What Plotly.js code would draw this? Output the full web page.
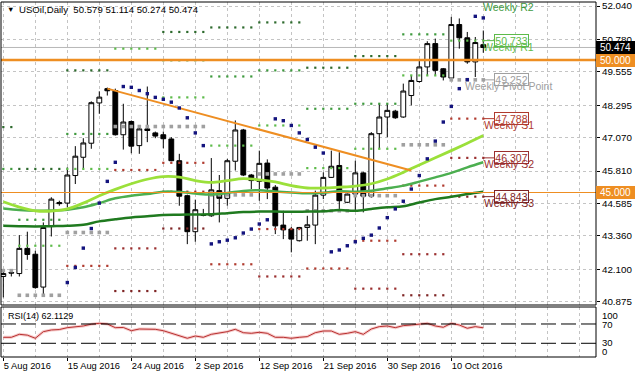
<!DOCTYPE html>
<html><head><meta charset="utf-8">
<script src="https://cdn.plot.ly/plotly-3.0.1.min.js"></script>
<style>html,body{margin:0;padding:0;background:#fff;}#chart{width:636px;height:379px;}</style>
</head><body><div id="chart"></div>
<script>
// ---- Daily candles (bar index 0 = 5 Aug 2016, one bar per 8px, Sunday bars included)
const openP  = [41.83,41.98,41.94,42.89,42.67,41.43,43.74,44.62,44.60,45.64,46.33,46.86,48.38,48.92,48.85,47.18,47.68,46.77,47.40,47.25,47.18,47.02,46.20,44.88,43.52,44.16,44.12,45.07,44.78,46.18,47.36,45.66,45.42,46.11,45.20,43.77,43.62,43.18,43.68,43.77,44.90,45.57,46.02,44.63,44.94,45.74,44.86,47.22,47.85,48.07,47.85,48.66,49.19,49.74,50.62,49.67,49.32,51.34,50.84,49.93,50.579];
const highP  = [42.10,42.05,43.39,43.52,42.80,43.87,44.82,44.69,45.95,46.75,47.05,48.44,48.82,48.96,48.92,48.35,47.72,47.47,49.00,47.30,47.30,47.09,46.46,44.92,44.73,44.38,46.30,45.66,46.27,47.72,47.40,45.70,46.58,46.25,45.28,44.31,43.70,43.70,44.12,45.07,45.76,46.58,46.52,44.96,46.20,45.78,47.28,48.35,48.35,48.12,49.11,49.42,49.99,50.71,50.81,49.70,51.63,51.57,51.06,50.87,51.114];
const lowP   = [41.04,41.83,41.83,42.46,41.37,41.16,43.34,44.50,44.44,45.32,45.92,46.65,47.97,48.66,47.15,46.62,46.48,46.46,46.90,47.05,46.67,46.18,44.50,43.05,43.14,44.10,44.08,43.87,44.50,45.83,45.62,45.13,44.69,44.75,43.43,43.24,42.74,43.15,43.18,43.05,44.75,45.55,44.38,44.60,44.31,44.25,44.80,46.65,47.09,47.78,47.82,48.29,49.15,49.42,49.42,49.23,49.29,50.43,49.86,49.36,50.274];
const closeP = [41.94,41.96,42.89,42.66,41.41,43.68,44.75,44.58,45.66,46.37,46.87,48.39,48.60,48.84,47.18,47.66,46.75,47.40,47.34,47.13,47.03,46.20,44.86,43.52,44.35,44.14,45.10,44.78,46.20,47.36,45.66,45.45,46.10,45.17,43.74,43.59,43.24,43.68,43.78,44.90,45.57,45.99,44.69,44.94,45.74,44.86,47.22,47.85,48.10,47.82,48.83,49.23,49.74,50.62,49.61,49.36,51.34,50.84,49.93,50.66,50.474];

// ---- Date tick labels (bar index -> label)
const dateTickIdx = [0,8,16,24,32,40,48,56];
const dateTickText = ['5 Aug 2016','15 Aug 2016','24 Aug 2016','2 Sep 2016','12 Sep 2016','21 Sep 2016','30 Sep 2016','10 Oct 2016'];

// ---- Price axis labels
const priceTicks = [52.040,50.780,49.555,48.295,47.070,45.810,44.585,43.360,42.100,40.875];
const priceTickText = priceTicks.map(v => v.toFixed(3));

// ---- Moving averages (read every other bar)
const maX    = [0,2,4,6,8,10,12,14,16,18,20,22,24,26,28,30,32,34,36,38,40,42,44,46,48,50,52,54,56,58,60];
const maFast = [44.65,44.45,44.31,44.30,44.38,44.60,44.88,45.12,45.33,45.50,45.60,45.58,45.45,45.38,45.45,45.52,45.48,45.40,45.26,45.17,45.17,45.20,45.24,45.33,45.51,45.76,46.04,46.31,46.58,46.86,47.15];
const maMid  = [44.40,44.34,44.31,44.32,44.35,44.44,44.60,44.78,44.88,44.94,45.03,45.02,44.96,44.92,44.98,45.06,45.08,45.04,45.00,44.97,44.99,45.05,45.03,45.07,45.16,45.26,45.41,45.57,45.74,45.95,46.14];
const maSlow = [43.74,43.73,43.72,43.73,43.74,43.78,43.91,43.99,44.06,44.10,44.15,44.16,44.17,44.18,44.22,44.26,44.28,44.28,44.27,44.28,44.29,44.34,44.31,44.38,44.44,44.48,44.62,44.75,44.84,44.94,45.03];

// ---- Parabolic SAR (from bar 8)
const sarStart = 8;
const sarVals = [41.60,42.17,42.90,43.64,44.60,45.42,46.14,49.00,48.97,48.85,48.73,48.59,48.52,48.41,48.19,47.82,47.25,46.77,43.06,43.14,43.20,43.29,43.47,43.62,43.81,43.97,47.78,47.71,47.53,47.25,47.00,46.71,46.49,42.76,42.83,42.99,43.14,43.27,43.39,43.66,44.05,44.38,44.67,45.13,45.64,46.27,46.94,47.66,48.25,48.92,49.26,51.65,51.59];

// ---- Weekly pivot levels (per week: first bar, last bar)
const weekStart = [0,2,8,14,20,26,32,38,44,50,56];
const weekEnd   = [1,7,13,19,25,31,37,43,49,55,60];
const wR3 = [47.47,45.89,49.61,null,51.06,51.23,51.42,49.71,50.15,null,null];
const wR2 = [45.89,43.97,47.21,null,49.99,49.38,49.61,48.16,48.35,50.97,null];
const wR1 = [null,42.99,45.89,50.43,48.59,46.77,47.53,45.92,46.65,49.42,50.733];
const wP  = [42.05,41.12,43.49,47.49,47.49,44.91,45.70,44.31,44.88,46.80,49.252];
const wS1 = [null,null,42.23,45.85,46.12,42.29,43.62,42.13,43.18,45.26,47.788];
const wS2 = [null,null,null,42.89,45.03,null,41.83,null,41.37,42.67,46.307];
const wS3 = [null,null,null,41.28,43.64,null,null,null,null,41.12,44.843];

// ---- Trend line, reference lines
const trendX = [13, 51];
const trendY = [48.92, 45.83];
const orangeLevels = [50.000, 45.000];
const bidPrice = 50.474;

// ---- RSI(14)
const rsiVals = [42.4,42.4,48.6,46.9,40.4,54.1,57.6,58.5,62.4,64.0,65.9,69.5,71.4,70.0,62.4,62.8,56.1,59.6,59.6,59.0,56.1,50.7,45.1,40.4,45.1,42.4,48.6,50.7,54.1,59.0,52.0,50.7,52.8,50.7,42.4,42.4,40.4,42.4,43.8,52.0,55.5,55.5,48.6,50.7,54.1,48.6,59.6,64.5,65.9,62.4,66.6,67.9,70.0,71.4,65.9,63.2,71.4,67.9,61.1,64.5,62.1];
const rsiLevels = [70, 30];
const rsiLabelVals = ['100','70','30','0'];
const rsiCurrent = '62.1129';

// ================= build =================
const W=636,H=379,ML=1,MR=40,MT=2,MB=22;
const plotH=H-MT-MB, plotW=W-ML-MR;
const pyP = py => (H-MB-py)/plotH;
const pxP = px => (px-ML)/plotW;
const mainDom=[pyP(305),1], rsiDom=[0,pyP(307)];
const FONT='Liberation Sans, Arial, sans-serif';

const bars = openP.map((_,i)=>i);
const orange='#EE8E22';
const cR1='#5DBB4A', cR2='#3E9A3E', cR3='#2D6A2D', cP='#A0A0A0', cS1='#B03A2E', cS2='#9A2E2E', cS3='#7E2424';

function expand(levels){
  const xs=[],ys=[];
  levels.forEach((v,w)=>{ if(v==null) return; for(let b=weekStart[w];b<=weekEnd[w];b++){xs.push(b);ys.push(v);} });
  return {xs,ys};
}
function dotTrace(levels,color,size){
  const e=expand(levels);
  return {type:'scatter',mode:'markers',x:e.xs,y:e.ys,xaxis:'x',yaxis:'y',hoverinfo:'skip',
    marker:{symbol:'square',size:size,color:color,line:{width:0}}};
}
const traces=[];
traces.push(dotTrace(wR3,cR3,2.2));
traces.push(dotTrace(wR2,cR2,2.2));
traces.push(dotTrace(wR1,cR1,2.2));
traces.push(dotTrace(wS1,cS1,2.2));
traces.push(dotTrace(wS2,cS2,2.2));
traces.push(dotTrace(wS3,cS3,2.2));
traces.push(dotTrace(wP,cP,3.6));

traces.push({type:'scatter',mode:'lines',x:maX,y:maSlow,line:{color:'#1F7A1F',width:2.5,shape:'spline'},hoverinfo:'skip'});
traces.push({type:'scatter',mode:'lines',x:maX,y:maMid,line:{color:'#4CAF50',width:2.5,shape:'spline'},hoverinfo:'skip'});
traces.push({type:'scatter',mode:'lines',x:maX,y:maFast,line:{color:'#9BE03A',width:2.8,shape:'spline'},hoverinfo:'skip'});
traces.push({type:'scatter',mode:'lines',x:trendX,y:trendY,line:{color:orange,width:2},hoverinfo:'skip'});

traces.push({type:'candlestick',x:bars,open:openP,high:highP,low:lowP,close:closeP,xaxis:'x',yaxis:'y',
  increasing:{line:{color:'#000',width:1},fillcolor:'#fff'},
  decreasing:{line:{color:'#000',width:1},fillcolor:'#000'},
  whiskerwidth:0,hoverinfo:'skip',showlegend:false});

traces.push({type:'scatter',mode:'markers',x:sarVals.map((_,i)=>sarStart+i),y:sarVals,
  marker:{symbol:'square',size:3.4,color:'#14147E'},hoverinfo:'skip'});

// RSI
traces.push({type:'scatter',mode:'lines',x:bars,y:rsiVals,xaxis:'x',yaxis:'y2',line:{color:'rgba(235,140,140,0.45)',width:3},hoverinfo:'skip'});
traces.push({type:'scatter',mode:'lines',x:bars,y:rsiVals,xaxis:'x',yaxis:'y2',line:{color:'#B83030',width:1},hoverinfo:'skip'});

const shapes=[];
orangeLevels.forEach((v,i)=>shapes.push({type:'line',xref:'paper',x0:0,x1:1,yref:'y',y0:v,y1:v,layer:'above',
  line:{color:orange,width:i===0?2.6:1.2}}));
shapes.push({type:'line',xref:'paper',x0:0,x1:1,yref:'y',y0:bidPrice,y1:bidPrice,layer:'below',line:{color:'#B8B8B8',width:1}});
rsiLevels.forEach(v=>shapes.push({type:'line',xref:'paper',x0:0,x1:1,yref:'y2',y0:v,y1:v,layer:'above',
  line:{color:'#000',width:1,dash:'15px,5px'}}));
// connectors from current week's dots to the price tags
const cur=weekStart.length-1;
[[wR1[cur],cR1],[wP[cur],cP],[wS1[cur],cS1],[wS2[cur],cS2],[wS3[cur],cS3]].forEach(([v,c])=>{
  shapes.push({type:'line',xref:'x',yref:'y',x0:weekEnd[cur],x1:61.35,y0:v,y1:v,line:{color:c,width:1}});
});
// frames
shapes.push({type:'rect',xref:'paper',yref:'paper',x0:0,x1:1,y0:mainDom[0],y1:1,line:{color:'#000',width:1}});
shapes.push({type:'rect',xref:'paper',yref:'paper',x0:0,x1:1,y0:0,y1:rsiDom[1],line:{color:'#000',width:1}});

const ann=[];
ann.push({xref:'paper',yref:'paper',x:pxP(5),y:pyP(10),xanchor:'left',yanchor:'middle',showarrow:false,
  text:'\u25BC',font:{family:FONT,size:7.5,color:'#000'}});
ann.push({xref:'paper',yref:'paper',x:pxP(17),y:pyP(10),xanchor:'left',yanchor:'middle',showarrow:false,
  text:'USOil,Daily  '+[openP[60],highP[60],lowP[60],closeP[60]].map(v=>v.toFixed(3)).join(' '),
  font:{family:FONT,size:9.6,color:'#000'}});
ann.push({xref:'paper',yref:'paper',x:pxP(6),y:pyP(316),xanchor:'left',yanchor:'middle',showarrow:false,
  text:'RSI(14) '+rsiCurrent,font:{family:FONT,size:9,color:'#000'}});
const rsiLabelPy=[315,324,342.5,351.5];
rsiLabelVals.forEach((t,i)=>ann.push({xref:'paper',yref:'paper',x:pxP(600),y:pyP(rsiLabelPy[i]),xanchor:'left',yanchor:'middle',
  showarrow:false,text:t,font:{family:FONT,size:9.5,color:'#000'}}));
// axis price tags
function axisTag(v,bg){
  ann.push({xref:'paper',yref:'y',x:1,y:v,xanchor:'left',yanchor:'middle',showarrow:false,text:v.toFixed(3),
    bgcolor:bg,bordercolor:bg,borderwidth:0,borderpad:1,width:37,height:11,align:'center',
    font:{family:FONT,size:10,color:'#fff'}});
}
axisTag(bidPrice,'#000');
orangeLevels.forEach(v=>axisTag(v,orange));
// weekly tags
function weekTag(v,c,name){
  ann.push({xref:'x',yref:'y',x:61.35,y:v,xanchor:'left',yanchor:'middle',showarrow:false,text:v.toFixed(3),
    bgcolor:'rgba(255,255,255,0.9)',bordercolor:c,borderwidth:1,borderpad:0,width:33,height:11,align:'center',
    font:{family:FONT,size:10.5,color:c}});
  ann.push({xref:'x',yref:'y',x:63.2,y:v,yshift:-6,xanchor:'center',yanchor:'middle',showarrow:false,text:name,
    font:{family:FONT,size:10.5,color:c}});
}
// Weekly R2 sits at the top edge of the chart: label only
ann.push({xref:'x',yref:'paper',x:63.2,y:pyP(7.3),xanchor:'center',yanchor:'middle',showarrow:false,text:'Weekly R2',
  font:{family:FONT,size:10.5,color:cR2}});
weekTag(wR1[cur],cR1,'Weekly R1');
weekTag(wP[cur],cP,'Weekly Pivot Point');
weekTag(wS1[cur],cS1,'Weekly S1');
weekTag(wS2[cur],cS2,'Weekly S2');
weekTag(wS3[cur],cS3,'Weekly S3');

const gridC='#C4C4C4';
const layout={
  width:W,height:H,margin:{l:ML,r:MR,t:MT,b:MB,pad:0},paper_bgcolor:'#fff',plot_bgcolor:'#fff',
  showlegend:false,boxgap:0.2,boxgroupgap:0.25,
  font:{family:FONT,size:9.5,color:'#000'},
  xaxis:{domain:[0,1],anchor:'y2',range:[-0.29,74.09],rangeslider:{visible:false},
    tickmode:'array',tickvals:dateTickIdx,ticktext:dateTickText,ticklabelposition:'outside right',
    ticks:'outside',ticklen:3,tickcolor:'#000',tickfont:{family:FONT,size:9.3,color:'#000'},
    showgrid:true,gridcolor:gridC,griddash:'3px,3px',gridwidth:1,zeroline:false,showline:false,
    minor:{tickmode:'linear',tick0:0,dtick:4,showgrid:true,gridcolor:gridC,griddash:'3px,3px',gridwidth:1,ticks:''}},
  yaxis:{domain:mainDom,anchor:'x',side:'right',range:[40.753,52.191],tickmode:'array',tickvals:priceTicks,ticktext:priceTickText,
    ticks:'outside',ticklen:3,tickcolor:'#000',tickfont:{family:FONT,size:9.8,color:'#000'},
    showgrid:true,gridcolor:gridC,griddash:'3px,3px',gridwidth:1,zeroline:false,showline:false},
  yaxis2:{domain:rsiDom,anchor:'x',side:'right',range:[1.6,105.2],showticklabels:false,ticks:'',showgrid:false,zeroline:false,showline:false},
  shapes:shapes,annotations:ann
};
Plotly.newPlot('chart',traces,layout,{staticPlot:true,displayModeBar:false});
</script></body></html>
